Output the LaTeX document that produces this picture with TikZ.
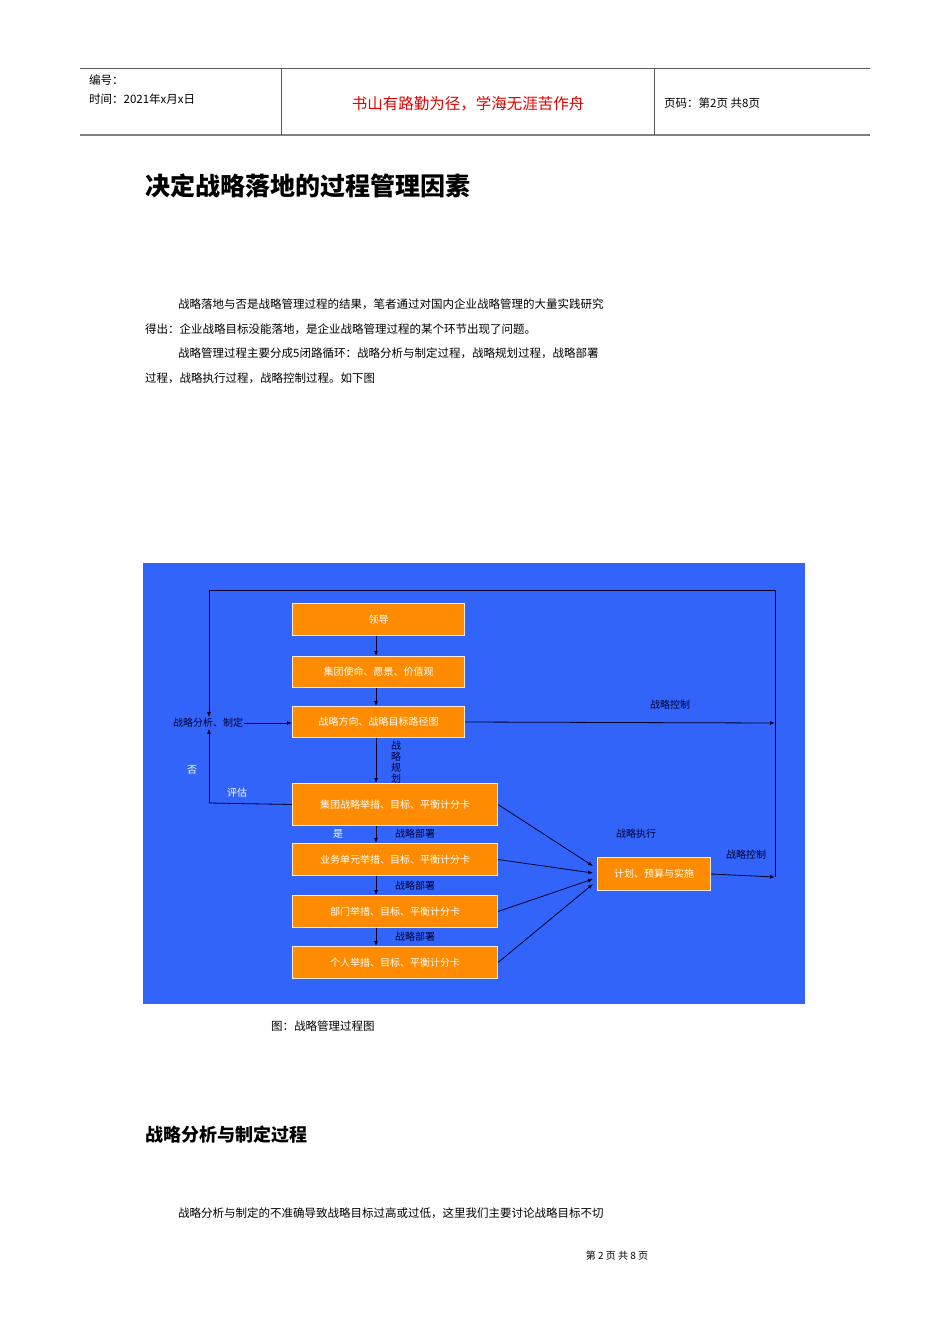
\documentclass[tikz,border=0pt]{standalone}
\usepackage{fontspec}
\setmainfont{Noto Sans CJK SC}
\newfontfamily\cjk{Noto Sans CJK SC}
\usetikzlibrary{arrows.meta}
\begin{document}
\begin{tikzpicture}[x=1pt,y=-1pt,
  box/.style={draw=white!85!orange,line width=1pt,fill=orange!90!yellow,text=white,font=\fontsize{10}{11}\selectfont,inner sep=0pt,anchor=north west},
  lab/.style={text=black!80!blue,font=\fontsize{10}{11}\selectfont,inner sep=1pt},
  arr/.style={-{Latex[length=5pt,width=4pt]},line width=0.8pt,draw=black!85!blue},
  ln/.style={line width=0.8pt,draw=black!85!blue},
  body/.style={anchor=west,font=\fontsize{11.5}{25}\selectfont,inner sep=0pt}]
\useasboundingbox (0,0) rectangle (950,1344);
\fill[white] (0,0) rectangle (950,1344);
% header
\draw[gray!70!black,line width=0.8pt] (80,68) -- (870,68);
\draw[gray,line width=1.5pt] (80,135) -- (870,135);
\draw[gray!70!black,line width=0.8pt] (281,68) -- (281,135) (654,68) -- (654,135);
\node[anchor=west,font=\fontsize{11.5}{14}\selectfont,inner sep=0pt] (h1) at (89,80) {编号：};
\node[anchor=west,font=\fontsize{11.5}{14}\selectfont,inner sep=0pt] (h2) at (89,99) {时间：2021年x月x日};
\node[anchor=center,text=red!90!black,font=\fontsize{15.5}{18}\selectfont,inner sep=0pt] (h3) at (468,104) {书山有路勤为径，学海无涯苦作舟};
\node[anchor=west,font=\fontsize{11.5}{14}\selectfont,inner sep=0pt] (h4) at (664,103) {页码：第2页\ 共8页};
% title
\node[anchor=west,font=\fontsize{25}{30}\selectfont\bfseries,inner sep=0pt] (t) at (145,186) {决定战略落地的过程管理因素};
\node[body] (p1) at (178,304) {战略落地与否是战略管理过程的结果，笔者通过对国内企业战略管理的大量实践研究};
\node[body] (p2) at (145,329) {得出：企业战略目标没能落地，是企业战略管理过程的某个环节出现了问题。};
\node[body] (p3) at (178,353) {战略管理过程主要分成5闭路循环：战略分析与制定过程，战略规划过程，战略部署};
\node[body] (p4) at (145,378) {过程，战略执行过程，战略控制过程。如下图};
% diagram
\fill[blue!60!cyan!75!black!90] (143,563) rectangle (805,1004);
\fill[color={rgb,255:red,50;green,100;blue,250}] (143,563) rectangle (805,1004);
\node[box,minimum width=172pt,minimum height=32pt] (b1) at (292,603) {领导};
\node[box,minimum width=172pt,minimum height=31pt] (b2) at (292,656) {集团使命、愿景、价值观};
\node[box,minimum width=172pt,minimum height=31pt] (b3) at (292,706) {战略方向、战略目标路径图};
\node[box,minimum width=205pt,minimum height=42pt] (b4) at (292,783) {集团战略举措、目标、平衡计分卡};
\node[box,minimum width=205pt,minimum height=32pt] (b5) at (292,843) {业务单元举措、目标、平衡计分卡};
\node[box,minimum width=205pt,minimum height=32pt] (b6) at (292,895) {部门举措、目标、平衡计分卡};
\node[box,minimum width=205pt,minimum height=32pt] (b7) at (292,946) {个人举措、目标、平衡计分卡};
\node[box,minimum width=113pt,minimum height=33pt] (b8) at (597,857) {计划、预算与实施};
\node[lab] (sa) at (208,723) {战略分析、制定};
\coordinate (tl) at (209,590); \coordinate (tr) at (775,590);
\coordinate (r1) at (775,723); \coordinate (r2) at (775,877);
\coordinate (el) at (209,803);
\draw[ln] (r2) -- (tr) -- (tl);
\draw[arr] (tl) -- (sa.north -| tl);
\draw[arr] (sa.east) -- (b3.west |- sa.east);
\draw[arr] (b3.east) -- (r1);
\draw[arr] (b8.east) -- (r2);
\draw[arr] (b1.south -| 376,0) -- (b2.north -| 376,0);
\draw[arr] (b2.south -| 376,0) -- (b3.north -| 376,0);
\draw[arr] (b3.south -| 376,0) -- (b4.north -| 376,0);
\draw[arr] (b4.south -| 376,0) -- (b5.north -| 376,0);
\draw[arr] (b5.south -| 376,0) -- (b6.north -| 376,0);
\draw[arr] (b6.south -| 376,0) -- (b7.north -| 376,0);
\draw[ln] (b4.west) -- (el);
\draw[arr] (el) -- (sa.south -| el);
\draw[arr] (b4.east) -- (593,866);
\draw[arr] (b5.east) -- (593,873);
\draw[arr] (b6.east) -- (593,879);
\draw[arr] (b7.east) -- (593,884);
\node[lab] (c1) at (670,705) {战略控制};
\node[lab] (c2) at (746,855) {战略控制};
\node[lab] (ex) at (636,834) {战略执行};
\node[lab,align=center,font=\fontsize{10}{11}\selectfont] (gh) at (396,762) {战\\略\\规\\划};
\node[lab] (d1) at (415,834) {战略部署};
\node[lab] (d2) at (415,886) {战略部署};
\node[lab] (d3) at (415,937) {战略部署};
\node[lab,text=white] (no) at (192,770) {否};
\node[lab,text=white] (ev) at (237,793) {评估};
\node[lab,text=white] (yes) at (338,834) {是};
% caption and rest
\node[anchor=west,font=\fontsize{11.5}{14}\selectfont,inner sep=0pt] (cap) at (271,1026) {图：战略管理过程图};
\node[anchor=west,font=\fontsize{18}{22}\selectfont\bfseries,inner sep=0pt] (s2) at (145,1135) {战略分析与制定过程};
\node[body] (p5) at (178,1213) {战略分析与制定的不准确导致战略目标过高或过低，这里我们主要讨论战略目标不切};
\node[anchor=center,font=\fontsize{10}{12}\selectfont,inner sep=0pt] (ft) at (617,1256) {第\ 2\ 页\ 共\ 8\ 页};
\end{tikzpicture}
\end{document}
